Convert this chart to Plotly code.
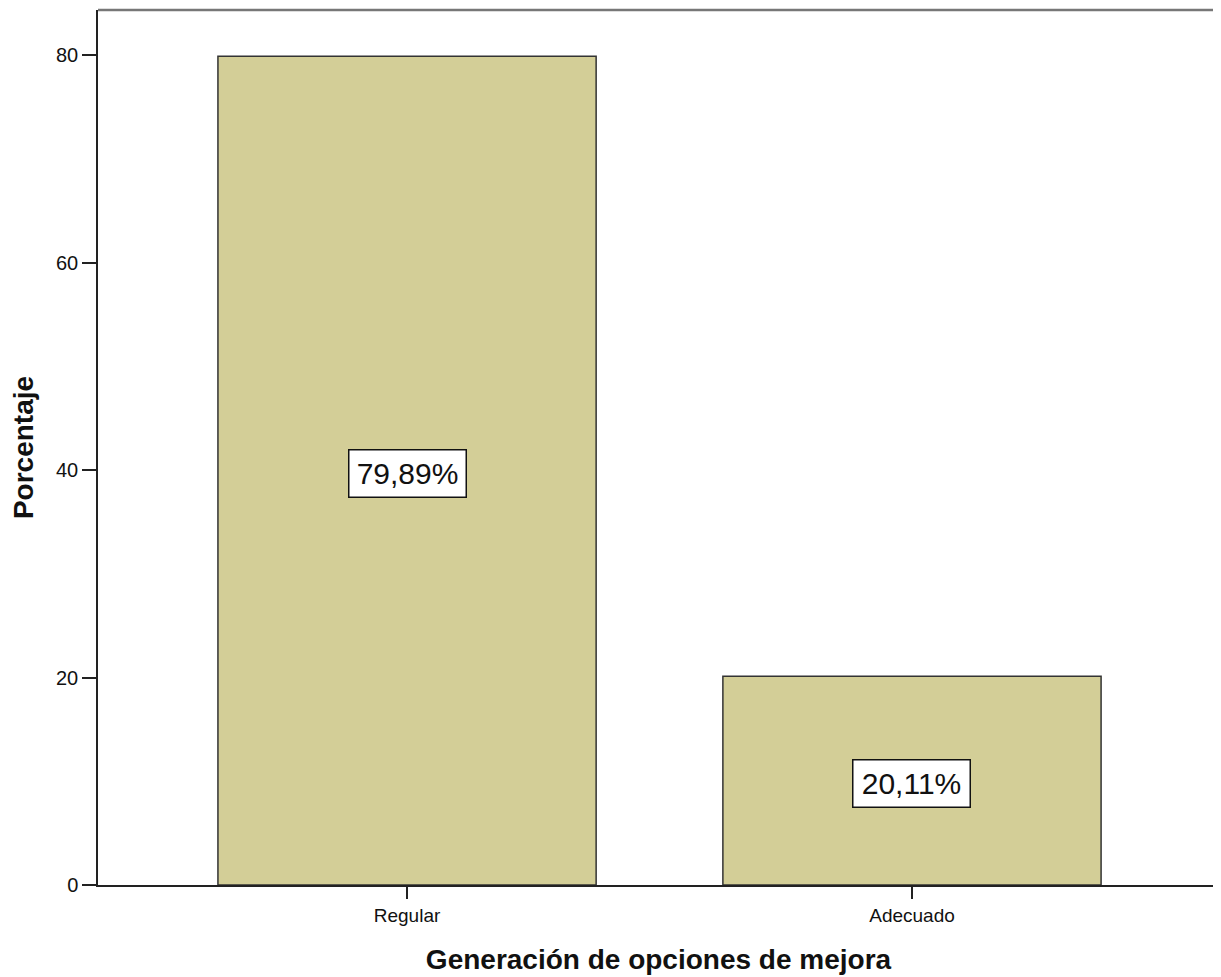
import plotly.graph_objects as go

categories = ["Regular", "Adecuado"]
percentages = [79.89, 20.11]
value_labels = ["79,89%", "20,11%"]
y_ticks = [0, 20, 40, 60, 80]

FONT = "Liberation Sans, Arial, sans-serif"

fig = go.Figure()
fig.add_trace(go.Bar(
    x=[0, 1],
    y=percentages,
    width=0.749,
    marker=dict(color="#d3ce97", line=dict(color="#333333", width=1.5)),
    hoverinfo="skip",
))

for i, (v, lab) in enumerate(zip(percentages, value_labels)):
    fig.add_annotation(
        x=i, y=v / 2, xref="x", yref="y", yshift=-3, text=lab, showarrow=False,
        font=dict(family=FONT, size=30, color="#111"),
        bgcolor="white", bordercolor="#111", borderwidth=1.5, borderpad=3,
        width=110, height=40,
    )

# page has an 8px body margin, so the figure is slightly smaller than the window
fig.update_layout(
    width=1213, height=969,
    margin=dict(l=90, r=2, t=2, b=92),
    paper_bgcolor="white", plot_bgcolor="white",
    showlegend=False,
    font=dict(family=FONT, color="#111"),
)
fig.update_xaxes(
    range=[-0.612, 1.608],
    tickvals=[0, 1], ticktext=categories,
    ticks="outside", ticklen=12, tickwidth=1.5, tickcolor="#222",
    tickfont=dict(family=FONT, size=19, color="#111"),
    showline=True, linecolor="#222", linewidth=1.5,
    mirror=False, showgrid=False, zeroline=False,
    title=dict(text="<b>Generación de opciones de mejora</b>",
               font=dict(family=FONT, size=28, color="#111"), standoff=25),
)
fig.update_yaxes(
    range=[0, 84.34],
    tickvals=y_ticks,
    ticks="outside", ticklen=14, tickwidth=1.5, tickcolor="#222",
    tickfont=dict(family=FONT, size=20, color="#111"),
    showline=True, linecolor="#222", linewidth=1.5,
    showgrid=False, zeroline=False,
    title=dict(text="<b>Porcentaje</b>",
               font=dict(family=FONT, size=28, color="#111"), standoff=14),
)
# gray frame on top and right
fig.add_shape(type="line", xref="paper", yref="paper", x0=0, x1=1, y0=1, y1=1,
              line=dict(color="#777", width=2.5))
fig.add_shape(type="line", xref="paper", yref="paper", x0=1, x1=1, y0=0, y1=1,
              line=dict(color="#777", width=2.5))

fig.write_html("out.html")
